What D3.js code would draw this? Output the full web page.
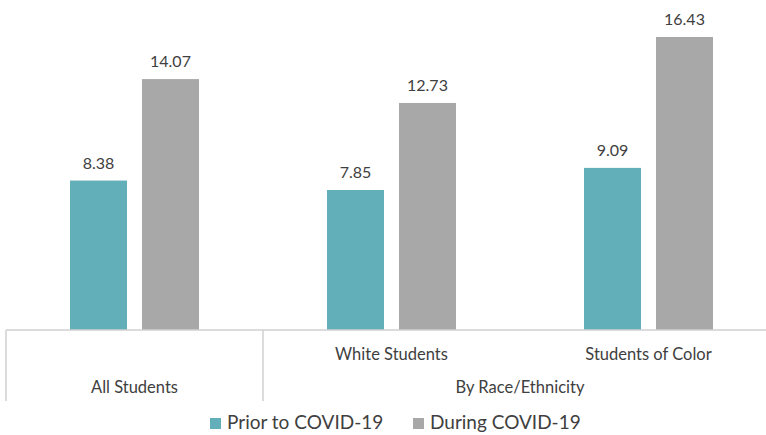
<!DOCTYPE html>
<html lang="en">
<head>
<meta charset="UTF-8">
<title>Chart</title>
<script src="https://cdnjs.cloudflare.com/ajax/libs/d3/7.8.5/d3.min.js"></script>
<style>
  body { margin: 0; background: #fff; }
  text { font-family: Lato, "Open Sans", sans-serif; fill: #404040; }
</style>
</head>
<body>
<div id="wrapper"></div>
<script>
const categories = ['All Students', 'White Students', 'Students of Color']
const groupLabels = [
  { label: 'All Students', from: 0, to: 0 },
  { label: 'By Race/Ethnicity', from: 1, to: 2 }
]
const series = ['Prior to COVID-19', 'During COVID-19']
const priorValues = [8.38, 7.85, 9.09]
const duringValues = [14.07, 12.73, 16.43]
const colors = ['#62aeb9', '#a8a8a8']

const dataset = categories.map((c, i) => ({
  category: c,
  values: [priorValues[i], duringValues[i]]
}))

function drawChart() {
  const dimensions = {
    width: 766,
    height: 435,
    margin: { top: 9, right: 0, bottom: 105, left: 6 }
  }
  dimensions.boundedHeight = dimensions.height - dimensions.margin.top - dimensions.margin.bottom

  const svg = d3.select('#wrapper')
    .append('svg')
      .attr('width', dimensions.width)
      .attr('height', dimensions.height)

  const bounds = svg.append('g')
    .attr('transform', `translate(${dimensions.margin.left},${dimensions.margin.top})`)

  // scales
  const xScale = d3.scaleBand()
    .domain(categories)
    .range([0, 771])
    .padding(0)

  const innerScale = d3.scaleBand()
    .domain(series)
    .range([0, xScale.bandwidth()])
    .paddingInner(0.208)
    .paddingOuter(0.889)

  const yScale = d3.scaleLinear()
    .domain([0, 18])
    .range([dimensions.boundedHeight, 0])

  // bars
  const groups = bounds.selectAll('.group')
    .data(dataset)
    .join('g')
      .attr('class', 'group')
      .attr('transform', d => `translate(${xScale(d.category)},0)`)

  groups.selectAll('rect')
    .data(d => d.values.map((v, i) => ({ key: series[i], value: v, i })))
    .join('rect')
      .attr('x', d => innerScale(d.key))
      .attr('y', d => yScale(d.value))
      .attr('width', innerScale.bandwidth())
      .attr('height', d => yScale(0) - yScale(d.value))
      .attr('fill', d => colors[d.i])

  groups.selectAll('.value')
    .data(d => d.values.map((v, i) => ({ key: series[i], value: v })))
    .join('text')
      .attr('class', 'value')
      .attr('x', d => innerScale(d.key) + innerScale.bandwidth() / 2)
      .attr('y', d => yScale(d.value) - 12)
      .attr('text-anchor', 'middle')
      .style('font-size', '16px')
      .text(d => d.value.toFixed(2))

  // category axis
  const axis = bounds.append('g')
    .attr('transform', `translate(0,${dimensions.boundedHeight})`)

  axis.append('line')
    .attr('x1', 0).attr('x2', 771)
    .attr('stroke', '#d0d0d0').attr('stroke-width', 1.5)

  // separators between top-level groups
  const sepX = [0, xScale(categories[1])]
  axis.selectAll('.sep')
    .data(sepX)
    .join('line')
      .attr('class', 'sep')
      .attr('x1', d => d).attr('x2', d => d)
      .attr('y1', 0).attr('y2', 71)
      .attr('stroke', '#d0d0d0').attr('stroke-width', 1.5)

  axis.selectAll('.catLabel')
    .data(categories.slice(1))
    .join('text')
      .attr('class', 'catLabel')
      .attr('x', d => xScale(d) + xScale.bandwidth() / 2)
      .attr('y', 30)
      .attr('text-anchor', 'middle')
      .style('font-size', '16.5px')
      .text(d => d)

  axis.selectAll('.groupLabel')
    .data(groupLabels)
    .join('text')
      .attr('class', 'groupLabel')
      .attr('x', d => (xScale(categories[d.from]) + xScale(categories[d.to]) + xScale.bandwidth()) / 2)
      .attr('y', 63)
      .attr('text-anchor', 'middle')
      .style('font-size', '16.5px')
      .text(d => d.label)

  // legend
  const legend = svg.append('g')
    .attr('transform', 'translate(210,429)')
  const legendX = [0, 203]
  const items = legend.selectAll('g')
    .data(series)
    .join('g')
      .attr('transform', (d, i) => `translate(${legendX[i]},0)`)
  items.append('rect')
    .attr('x', 0).attr('y', -11)
    .attr('width', 11).attr('height', 11)
    .attr('fill', (d, i) => colors[i])
  items.append('text')
    .attr('x', 17)
    .attr('y', 0)
    .style('font-size', '19px')
    .text(d => d)
}

drawChart()
</script>
</body>
</html>
